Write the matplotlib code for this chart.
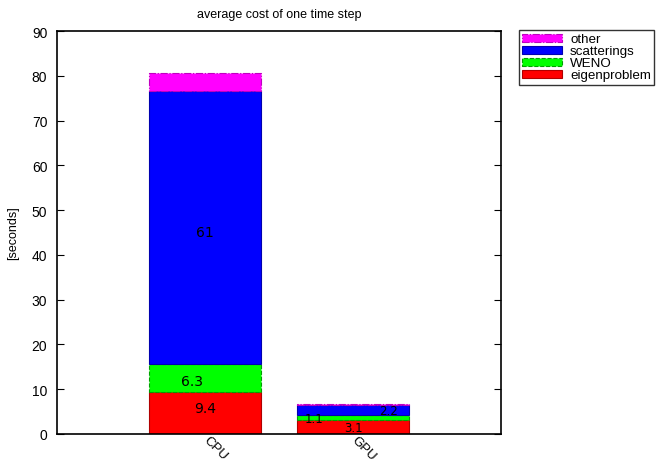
import matplotlib
matplotlib.use("Agg")
import matplotlib.pyplot as plt
import numpy as np

# data (seconds)
machines = ["CPU", "GPU"]
parts = ["eigenproblem", "WENO", "scatterings", "other"]
eigenproblem = [9.4, 3.1]
weno = [6.3, 1.1]
scatterings = [61.0, 2.2]
other = [3.9, 0.4]
# labels shown inside the bars (other is not labelled)
label_texts = [["9.4", "3.1"], ["6.3", "1.1"], ["61", "2.2"]]

colors = ["#ff0000", "#00ff00", "#0000ff", "#ff00ff"]
edges = ["#b00000", "#00a000", "#0000b0", "#c000c0"]
styles = ["-", "--", "-", "-."]
# nudges of the value labels from segment centres, as in the original
label_dx = [[0.0, 0.0], [-0.09, -0.26], [0.0, 0.24]]
label_dy = [[1.1, 0.0], [-0.75, -0.1], [-1.1, 0.0]]

plt.rcParams["font.family"] = ["Liberation Sans", "DejaVu Sans"]

fig = plt.figure(figsize=(6.6, 4.64), dpi=100)
ax = fig.add_axes([0.0864, 0.0625, 0.6727, 0.8685])

x = np.arange(len(machines))
width = 0.76
series = [eigenproblem, weno, scatterings, other]
bottom = np.zeros(len(machines))
handles = []
for i, vals in enumerate(series):
    vals = np.array(vals)
    bars = ax.bar(x, vals, width, bottom=bottom, color=colors[i],
                  edgecolor=edges[i], linestyle=styles[i], linewidth=0.8,
                  label=parts[i])
    handles.append(bars)
    if i < len(label_texts):
        for j in range(len(machines)):
            ax.text(x[j] + label_dx[i][j], bottom[j] + vals[j] / 2 + label_dy[i][j],
                    label_texts[i][j], ha="center", va="center",
                    fontsize=10 if j == 0 else 8.5, family="DejaVu Sans")
    bottom += vals

ax.set_xlim(-1, 2)
ax.set_ylim(0, 90)
ax.set_yticks(np.arange(0, 91, 10))
ax.set_xticks(x)
ax.set_xticklabels(machines, rotation=-45, ha="left", va="center",
                   rotation_mode="anchor", fontsize=9.5)
ax.tick_params(axis="y", direction="in", right=True, length=5, labelsize=10,
               pad=7)
ax.tick_params(axis="x", length=0, pad=3)
for s in ax.spines.values():
    s.set_linewidth(1.2)
ax.set_ylabel("[seconds]", fontsize=9, labelpad=9)
ax.set_title("average cost of one time step", fontsize=9, pad=10)

leg = fig.legend(handles[::-1], parts[::-1], loc="upper left",
                 bbox_to_anchor=(0.786, 0.933), fontsize=9.6, frameon=True,
                 fancybox=False, edgecolor="black", handlelength=3.0,
                 handleheight=0.55, labelspacing=0.0, borderpad=0.25,
                 handletextpad=0.6, borderaxespad=0)
leg.get_frame().set_linewidth(1.0)

fig.savefig("out.png", dpi=100)
